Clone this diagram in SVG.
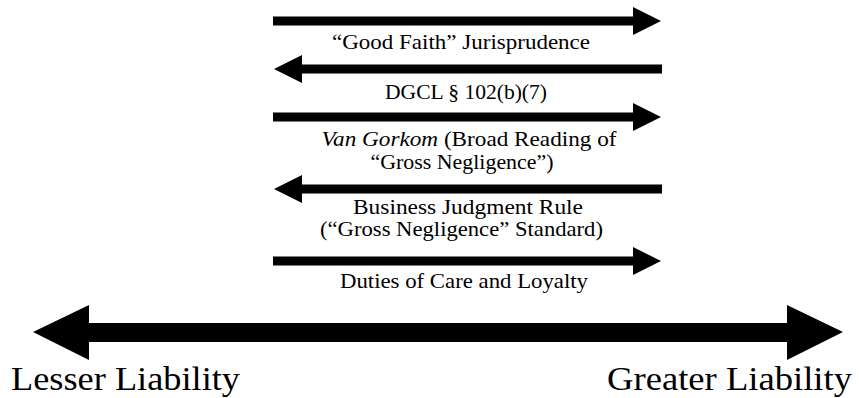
<svg xmlns="http://www.w3.org/2000/svg" xmlns:xlink="http://www.w3.org/1999/xlink" width="859" height="398" viewBox="0 0 859 398">
<style>
.lbl{font-family:"Liberation Serif","Times New Roman",serif;font-size:21px;fill:#000;text-anchor:middle}
.big{font-family:"Liberation Serif","Times New Roman",serif;font-size:33px;fill:#000}
.arr{fill:#000}
</style>
<defs>
<path id="ra" d="M0,-4.5 H360 V-14 L388,0 L360,14 V4.5 H0 Z"/>
<path id="la" d="M0,0 L28,-14 V-4.5 H388 V4.5 H28 V14 Z"/>
</defs>
<rect width="859" height="398" fill="#fff"/>
<g id="connectors">
<use xlink:href="#ra" href="#ra" class="arr" x="273" y="21"/>
<use xlink:href="#la" href="#la" class="arr" x="274" y="69"/>
<use xlink:href="#ra" href="#ra" class="arr" x="273" y="117"/>
<use xlink:href="#la" href="#la" class="arr" x="274" y="189"/>
<use xlink:href="#ra" href="#ra" class="arr" x="273" y="261"/>
<path class="arr" d="M33,332 L89,305 V323 H787 V305 L843,332 L787,360 V342 H89 V360 Z"/>
</g>
<g id="good-faith"><text class="lbl" x="461" y="48.5" textLength="258" lengthAdjust="spacingAndGlyphs">“Good Faith” Jurisprudence</text></g>
<g id="dgcl"><text class="lbl" x="466" y="98.5" textLength="162" lengthAdjust="spacingAndGlyphs">DGCL § 102(b)(7)</text></g>
<g id="van-gorkom"><text class="lbl" x="469" y="145.5" textLength="295" lengthAdjust="spacingAndGlyphs"><tspan font-style="italic">Van Gorkom</tspan> (Broad Reading of</text><text class="lbl" x="462" y="168.5" textLength="183" lengthAdjust="spacingAndGlyphs">“Gross Negligence”)</text></g>
<g id="bjr"><text class="lbl" x="468" y="213.5" textLength="230" lengthAdjust="spacingAndGlyphs">Business Judgment Rule</text><text class="lbl" x="461.5" y="235.5" textLength="283" lengthAdjust="spacingAndGlyphs">(“Gross Negligence” Standard)</text></g>
<g id="duties"><text class="lbl" x="464" y="287.5" textLength="248" lengthAdjust="spacingAndGlyphs">Duties of Care and Loyalty</text></g>
<g id="lesser"><text class="big" x="11" y="390" textLength="229" lengthAdjust="spacingAndGlyphs">Lesser Liability</text></g>
<g id="greater"><text class="big" x="607" y="390" textLength="245" lengthAdjust="spacingAndGlyphs">Greater Liability</text></g>
</svg>
